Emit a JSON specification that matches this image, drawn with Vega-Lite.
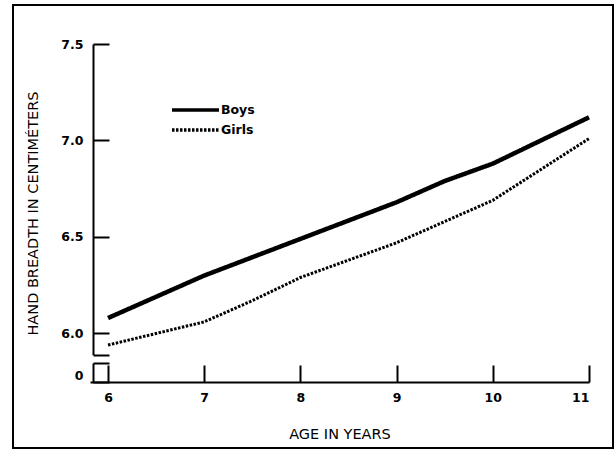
{
  "$schema": "https://vega.github.io/schema/vega-lite/v6.json",
  "width": 600,
  "height": 443,
  "autosize": "none",
  "padding": {"left": 13, "top": 5, "right": 2, "bottom": 2},
  "background": "white",
  "config": {
    "font": "DejaVu Sans",
    "view": {"stroke": "black", "strokeWidth": 2},
    "axis": {
      "grid": false,
      "domainColor": "black",
      "domainWidth": 2,
      "tickColor": "black",
      "tickWidth": 2,
      "labelColor": "black",
      "titleColor": "black",
      "labelFontSize": 12.5,
      "labelFontWeight": "bold",
      "titleFontSize": 14.5,
      "titleFontWeight": "normal"
    }
  },
  "data": {
    "values": [
      {"sex": "Boys", "age": 6, "breadth": 6.08},
      {"sex": "Boys", "age": 7, "breadth": 6.30},
      {"sex": "Boys", "age": 8, "breadth": 6.49},
      {"sex": "Boys", "age": 9, "breadth": 6.68},
      {"sex": "Boys", "age": 9.5, "breadth": 6.79},
      {"sex": "Boys", "age": 10, "breadth": 6.88},
      {"sex": "Boys", "age": 11, "breadth": 7.12},
      {"sex": "Girls", "age": 6, "breadth": 5.94},
      {"sex": "Girls", "age": 7, "breadth": 6.06},
      {"sex": "Girls", "age": 7.5, "breadth": 6.17},
      {"sex": "Girls", "age": 8, "breadth": 6.29},
      {"sex": "Girls", "age": 9, "breadth": 6.47},
      {"sex": "Girls", "age": 9.5, "breadth": 6.58},
      {"sex": "Girls", "age": 10, "breadth": 6.69},
      {"sex": "Girls", "age": 11, "breadth": 7.01}
    ]
  },
  "layer": [
    {
      "mark": {"type": "line", "color": "black", "strokeCap": "butt"},
      "encoding": {
        "x": {
          "field": "age",
          "type": "quantitative",
          "scale": {"domain": [5.813, 11], "range": [77, 576], "nice": false, "zero": false},
          "axis": {
            "orient": "bottom",
            "offset": -66,
            "values": [6, 7, 8, 9, 10, 11],
            "tickSize": -17,
            "labelPadding": 26,
            "title": "AGE IN YEARS",
            "titlePadding": 24
          }
        },
        "y": {
          "field": "breadth",
          "type": "quantitative",
          "scale": {"domain": [5.89, 7.5], "range": [349.7, 39], "nice": false, "zero": false},
          "axis": {
            "orient": "left",
            "offset": -80,
            "values": [5.89, 6, 6.5, 7, 7.5],
            "tickSize": -16,
            "labelPadding": 26,
            "labelExpr": "datum.value < 5.95 ? '' : format(datum.value, '.1f')",
            "title": "HAND BREADTH IN CENTIMÉTERS",
            "titleY": 208,
            "titlePadding": 20
          }
        },
        "strokeDash": {
          "field": "sex",
          "type": "nominal",
          "scale": {"domain": ["Boys", "Girls"], "range": [[1, 0], [2.5, 1.5]]},
          "legend": {
            "title": null,
            "orient": "none",
            "legendX": 157,
            "legendY": 96,
            "symbolType": "stroke",
            "symbolSize": 2209,
            "symbolStrokeWidth": 3.5,
            "symbolStrokeColor": "black",
            "clipHeight": 18,
            "labelFontSize": 12.5,
            "labelFontWeight": "bold",
            "labelColor": "black",
            "labelOffset": 0
          }
        },
        "strokeWidth": {"condition": {"test": "datum.sex === 'Boys'", "value": 4.5}, "value": 3}
      }
    },
    {
      "mark": {"type": "point", "opacity": 0},
      "encoding": {
        "y": {
          "datum": 0,
          "type": "quantitative",
          "scale": {"domain": [0, 1], "range": [377, 358], "nice": false, "zero": false},
          "axis": {
            "orient": "left",
            "offset": -80,
            "values": [0, 1],
            "tickSize": -16,
            "labelPadding": 26,
            "labelBaseline": "bottom",
            "labelExpr": "datum.value == 0 ? '0' : ''",
            "title": null
          }
        }
      }
    }
  ],
  "resolve": {"scale": {"y": "independent"}, "axis": {"y": "independent"}}
}
